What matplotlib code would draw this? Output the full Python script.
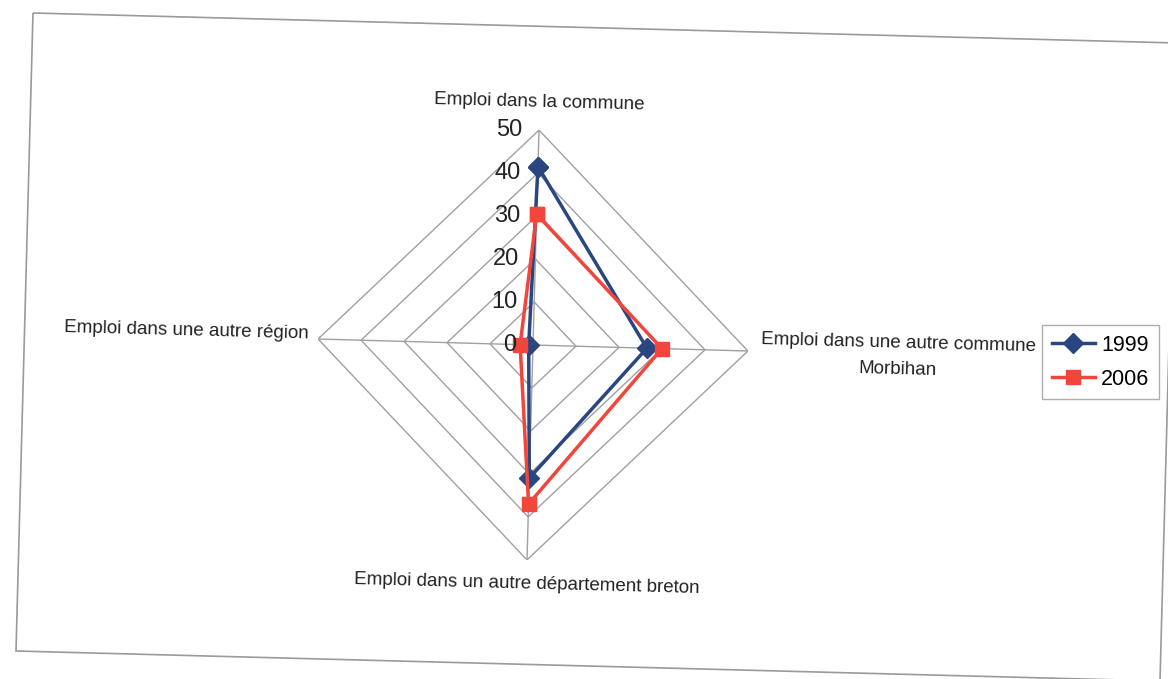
import numpy as np
import matplotlib
matplotlib.use('Agg')
from matplotlib import pyplot as plt
from matplotlib.patches import Polygon
from matplotlib.lines import Line2D

categories = ['Emploi dans la commune',
              'Emploi dans une autre commune\nMorbihan',
              'Emploi dans un autre département breton',
              'Emploi dans une autre région']
series_names = ['1999', '2006']
values_1999 = [41.5, 26.5, 31, 1]
values_2006 = [30.5, 30, 37, 3]
rings = [10, 20, 30, 40, 50]
tick_labels = ['0', '10', '20', '30', '40', '50']

blue = '#2a4680'
red = '#f2463c'
grid = '#a0a0a0'
tilt = np.radians(1.6)  # the scan is a bit rotated

plt.rcParams['font.family'] = ['Liberation Sans', 'DejaVu Sans']
fig = plt.figure(figsize=(11.68, 6.79), dpi=100)

# chart frame (rotated like the scan)
W, H = 1168, 679
corners = [(33, 13), (16, 651), (1160, 681), (1177, 43)]
frame = Polygon([(x / W, 1 - y / H) for x, y in corners], closed=True,
                fill=False, edgecolor='#9a9a9a', lw=1.2, transform=fig.transFigure)
fig.patches.append(frame)

cx, cy, R = 533, 345, 215
ax = fig.add_axes([(cx - R) / W, 1 - (cy + R) / H, 2 * R / W, 2 * R / H], polar=True)
ax.set_theta_offset(np.pi / 2 - tilt)
ax.set_theta_direction(-1)
ax.set_ylim(0, 50)
ax.grid(False)
ax.spines['polar'].set_visible(False)
ax.set_xticks([])
ax.set_yticks([])
ax.patch.set_alpha(0)

n = len(categories)
angles = np.arange(n) * 2 * np.pi / n
closed = np.append(angles, angles[0])

for r in rings:
    ax.plot(closed, [r] * (n + 1), color=grid, lw=1.0, zorder=1)
for a in angles:
    ax.plot([a, a], [0, 50], color=grid, lw=1.0, zorder=1)

for i, t in enumerate(tick_labels):
    ax.annotate(t, (0, i * 10), xytext=(-12, 0), textcoords='offset points',
                ha='right', va='center', fontsize=17, color='#222222', zorder=5)

ax.plot(closed, values_1999 + values_1999[:1], color=blue, lw=2.5, marker='D',
        markersize=10, zorder=3, clip_on=False)
ax.plot(closed, values_2006 + values_2006[:1], color=red, lw=2.5, marker='s',
        markersize=10, zorder=4, clip_on=False)

# category labels
lab = dict(fontsize=13.5, color='#222222', rotation=-1.5, rotation_mode='anchor')
ax.annotate(categories[0], (angles[0], 50), xytext=(0, 14), textcoords='offset points',
            ha='center', va='bottom', **lab)
ax.annotate(categories[1], (angles[1], 50), xytext=(9, -1), textcoords='offset points',
            ha='left', va='center', multialignment='center', linespacing=1.75, **lab)
ax.annotate(categories[2], (angles[2], 50), xytext=(0, -11), textcoords='offset points',
            ha='center', va='top', **lab)
ax.annotate(categories[3], (angles[3], 50), xytext=(-7, 4), textcoords='offset points',
            ha='right', va='center', **lab)

handles = [Line2D([], [], color=blue, lw=2.5, marker='D', markersize=10),
           Line2D([], [], color=red, lw=2.5, marker='s', markersize=10)]
fig.legend(handles, series_names, loc='upper left', bbox_to_anchor=(1042 / W, 1 - 325 / H),
           fontsize=15.5, frameon=True, fancybox=False, edgecolor='#9a9a9a',
           handlelength=2.0, handletextpad=0.3, borderpad=0.45, labelspacing=0.6,
           borderaxespad=0)

fig.savefig('out.png', dpi=100)
